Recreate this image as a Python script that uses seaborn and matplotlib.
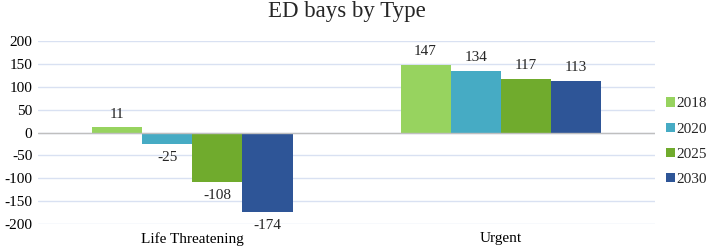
import pandas as pd
import matplotlib.pyplot as plt
import seaborn as sns

# data
types = ["Life Threatening", "Urgent"]
years = ["2018", "2020", "2025", "2030"]
life_threatening = [11, -25, -108, -174]
urgent = [147, 134, 117, 113]
colors = ["#97D35F", "#46ABC4", "#70AB2D", "#2E5597"]

df = pd.DataFrame({
    "Type": [types[0]] * 4 + [types[1]] * 4,
    "Year": years * 2,
    "Bays": life_threatening + urgent,
})

sns.set_theme(style="white")
plt.rcParams["font.family"] = ["Liberation Serif", "DejaVu Serif"]
plt.rcParams["axes.unicode_minus"] = False

fig = plt.figure(figsize=(7.08, 2.49), dpi=100)
ax = fig.add_axes([0.0537, 0.1004, 0.8715, 0.7349])

sns.barplot(data=df, x="Type", y="Bays", hue="Year", palette=colors,
            width=0.65, saturation=1, linewidth=0, ax=ax, zorder=3)

ax.set_ylim(-200, 200)
ax.set_yticks(range(-200, 201, 50))
ax.grid(axis="y", color="#D9E1F2", lw=1, zorder=0)
ax.axhline(0, color="#BFBFBF", lw=1, zorder=4)
for s in ax.spines.values():
    s.set_visible(False)
ax.tick_params(axis="both", length=0, labelsize=11, colors="black", pad=4)
ax.tick_params(axis="x", pad=6)
ax.set_xlabel("")
ax.set_ylabel("")

for cont in ax.containers:
    ax.bar_label(cont, fmt="%d", padding=5, fontsize=11)

ax.set_title("ED bays by Type", fontsize=16.5, pad=17)

ax.legend(loc="center left", bbox_to_anchor=(1.018, 0.45), frameon=False,
          prop={"family": "Liberation Serif", "size": 11},
          handlelength=0.55, handleheight=0.55, handletextpad=0.15,
          labelspacing=0.8, borderpad=0, borderaxespad=0)

fig.savefig("out.png", dpi=100)
